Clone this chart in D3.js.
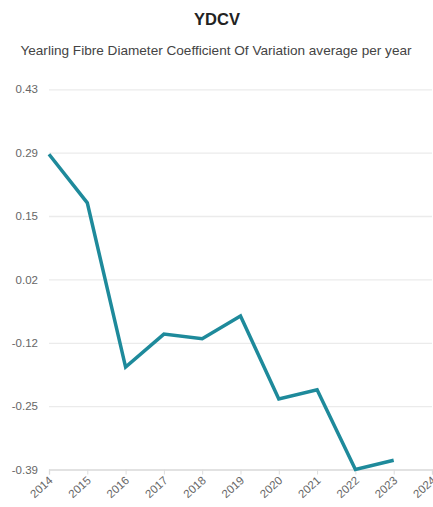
<!DOCTYPE html>
<html><head><meta charset="utf-8">
<script src="https://cdn.jsdelivr.net/npm/d3@7"></script>
<style>body{margin:0;background:#fff;font-family:Arial,"Liberation Sans",sans-serif;}</style>
</head><body>
<svg id="c" width="433" height="507"></svg>
<script>
const years = [2014,2015,2016,2017,2018,2019,2020,2021,2022,2023];
const values = [0.29,0.185,-0.169,-0.098,-0.108,-0.059,-0.238,-0.218,-0.39,-0.37];
const xTickLabels = [2014,2015,2016,2017,2018,2019,2020,2021,2022,2023,2024];
const yTickValues = [-0.39,-0.2533,-0.1167,0.02,0.1567,0.2933,0.43];
const yTickLabels = ["-0.39","-0.25","-0.12","0.02","0.15","0.29","0.43"];
const title = "YDCV";
const subtitle = "Yearling Fibre Diameter Coefficient Of Variation average per year";

const svg = d3.select("#c");
const x = d3.scaleLinear().domain([2014,2024]).range([49,432]);
const y = d3.scaleLinear().domain([-0.39,0.43]).range([469.5,89.3]);

svg.append("text").attr("x",217).attr("y",25).attr("text-anchor","middle")
  .attr("font-size",16.5).attr("font-weight","bold").attr("fill","#222").text(title);
svg.append("text").attr("x",216).attr("y",55).attr("text-anchor","middle")
  .attr("font-size",13.6).attr("fill","#444").text(subtitle);

// gridlines
const ya = d3.axisLeft(y).tickValues(yTickValues).tickSize(-(432-49))
  .tickFormat((d,i)=>yTickLabels[i]);
const gy = svg.append("g").attr("transform","translate(49,0)").call(ya);
gy.select(".domain").remove();
gy.selectAll(".tick line").attr("stroke","#ebebeb").attr("stroke-width",1.3);
gy.selectAll(".tick text").attr("x",-11).attr("fill","#666").attr("font-size",11.5)
  .attr("font-family","Arial,'Liberation Sans',sans-serif");

// x axis
const xa = d3.axisBottom(x).tickValues(xTickLabels).tickSize(5).tickFormat(d3.format("d"));
const gx = svg.append("g").attr("transform","translate(0,469.5)").call(xa);
gx.select(".domain").attr("stroke","#ddd").attr("stroke-width",1.3);
gx.selectAll(".tick line").attr("stroke","#ddd");
gx.selectAll(".tick text").attr("fill","#666").attr("font-size",11.5)
  .attr("font-family","Arial,'Liberation Sans',sans-serif")
  .attr("text-anchor","end").attr("dy",0).attr("y",0)
  .attr("transform","translate(4,12) rotate(-42)");

// line
const line = d3.line().x((d,i)=>x(years[i])).y(d=>y(d));
svg.append("path").datum(values).attr("d",line).attr("fill","none")
  .attr("stroke","#1e8a9b").attr("stroke-width",3.5).attr("stroke-linejoin","miter");
</script>
</body></html>
